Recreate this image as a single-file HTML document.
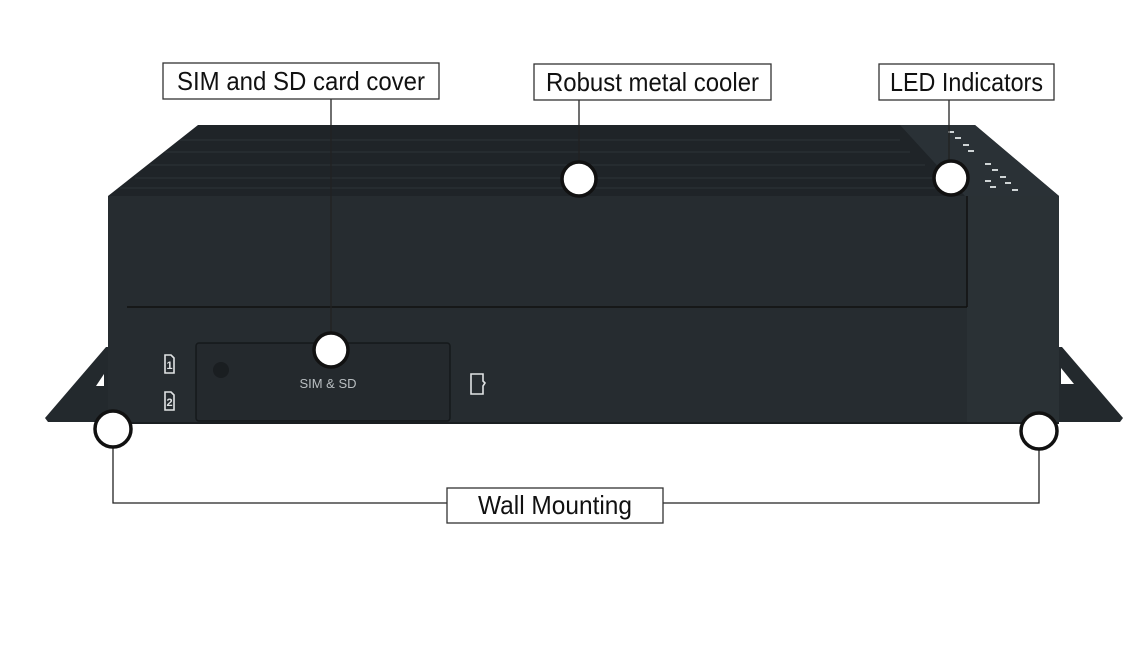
<!DOCTYPE html>
<html><head><meta charset="utf-8"><style>
html,body{margin:0;padding:0;background:#fff;}
svg{display:block;}
.lbl{font-family:"Liberation Sans Narrow","Liberation Sans",sans-serif;font-size:26px;fill:#111;}
</style></head><body>
<svg width="1145" height="647" viewBox="0 0 1145 647" xmlns="http://www.w3.org/2000/svg">
<rect width="1145" height="647" fill="#fff"/>
<!-- flanges -->
<polygon points="45,418 106,347 112,347 112,422 48,422" fill="#23292d"/>
<polygon points="1055,347 1062,347 1123,418 1120,422 1055,422" fill="#23292d"/>
<polygon points="96,386 104,374 104,386" fill="#fff"/>
<polygon points="1061,368 1074,384 1061,384" fill="#fff"/>
<!-- top -->
<polygon points="198,125 900,125 975,125 1059,196 108,196" fill="#1f2428"/>
<g stroke="#2d3439" stroke-width="1">
<line x1="180" y1="140" x2="900" y2="140"/><line x1="165" y1="152" x2="910" y2="152"/>
<line x1="150" y1="165" x2="925" y2="165"/><line x1="135" y1="178" x2="940" y2="178"/>
<line x1="120" y1="188" x2="955" y2="188"/>
</g>
<polygon points="900,125 975,125 1059,196 965,196" fill="#2a3136"/>
<g fill="#cfd4d6">
<rect x="948" y="131" width="6" height="2"/><rect x="955" y="137" width="6" height="2"/><rect x="963" y="144" width="6" height="2"/>
<rect x="968" y="150" width="6" height="2"/><rect x="985" y="163" width="6" height="2"/><rect x="992" y="169" width="6" height="2"/>
<rect x="1000" y="176" width="6" height="2"/><rect x="1005" y="182" width="6" height="2"/><rect x="1012" y="189" width="6" height="2"/>
<rect x="985" y="180" width="6" height="2"/><rect x="990" y="186" width="6" height="2"/>
</g>
<!-- front -->
<rect x="108" y="196" width="951" height="228" fill="#262c30"/>
<rect x="967" y="196" width="92" height="228" fill="#2a3135"/>
<line x1="967" y1="196" x2="967" y2="307" stroke="#111" stroke-width="1.5"/>
<line x1="127" y1="307" x2="967" y2="307" stroke="#111" stroke-width="1.5"/>
<line x1="108" y1="423" x2="1059" y2="423" stroke="#1a1e21" stroke-width="2"/>
<!-- cover -->
<rect x="196" y="343" width="254" height="78" rx="3" fill="#24292d" stroke="#15191b" stroke-width="1.5"/>
<circle cx="221" cy="370" r="8" fill="#1a1e21"/>
<text x="328" y="388" font-family="Liberation Sans,sans-serif" font-size="13" fill="#b9bec1" text-anchor="middle">SIM &amp; SD</text>
<g fill="none" stroke="#e0e3e4" stroke-width="1.6">
<path d="M165 355 L171 355 L174 358 L174 373 L165 373 Z"/>
<path d="M165 392 L171 392 L174 395 L174 410 L165 410 Z"/>
<path d="M471 374 L483 374 L483 381 L485 383 L483 386 L483 394 L471 394 Z"/>
</g>
<text x="169.5" y="369" font-family="Liberation Sans,sans-serif" font-size="11" font-weight="bold" fill="#e0e3e4" text-anchor="middle">1</text>
<text x="169.5" y="406" font-family="Liberation Sans,sans-serif" font-size="11" font-weight="bold" fill="#e0e3e4" text-anchor="middle">2</text>
<!-- leaders -->
<g stroke="#222" stroke-width="1.3" fill="none">
<line x1="331" y1="99" x2="331" y2="333"/>
<line x1="579" y1="100" x2="579" y2="162"/>
<line x1="949" y1="100" x2="949" y2="160"/>
<polyline points="113,447 113,503 447,503"/>
<polyline points="663,503 1039,503 1039,449"/>
</g>
<g fill="#fff" stroke="#111" stroke-width="3.5">
<circle cx="331" cy="350" r="17"/>
<circle cx="579" cy="179" r="17"/>
<circle cx="951" cy="178" r="17"/>
<circle cx="113" cy="429" r="18"/>
<circle cx="1039" cy="431" r="18"/>
</g>
<!-- labels -->
<g fill="#fff" stroke="#333" stroke-width="1.3">
<rect x="163" y="63" width="276" height="36"/>
<rect x="534" y="64" width="237" height="36"/>
<rect x="879" y="64" width="175" height="36"/>
<rect x="447" y="488" width="216" height="35"/>
</g>
<text class="lbl" x="177" y="90" textLength="248" lengthAdjust="spacingAndGlyphs">SIM and SD card cover</text>
<text class="lbl" x="546" y="91" textLength="213" lengthAdjust="spacingAndGlyphs">Robust metal cooler</text>
<text class="lbl" x="890" y="91" textLength="153" lengthAdjust="spacingAndGlyphs">LED Indicators</text>
<text class="lbl" x="478" y="514" textLength="154" lengthAdjust="spacingAndGlyphs">Wall Mounting</text>
</svg>
</body></html>
